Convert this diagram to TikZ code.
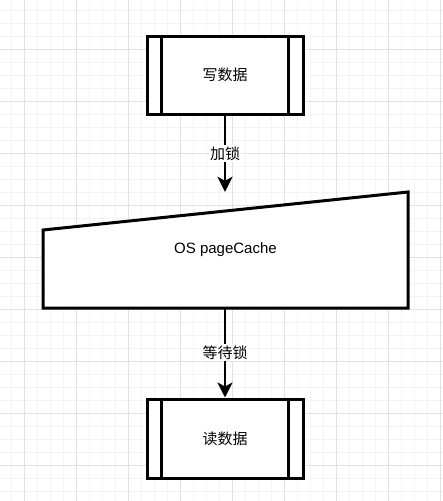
\documentclass[tikz,border=0pt]{standalone}
\usepackage{fontspec}
\setmainfont{Liberation Sans}
\newfontfamily\cjk{Noto Sans CJK SC}
\usetikzlibrary{arrows.meta,calc}
\definecolor{gridminor}{HTML}{F4F4F4}
\definecolor{gridmajor}{HTML}{E2E2E2}
\tikzset{
  procbox/.style={draw, line width=3pt, fill=white, minimum width=156pt,
    minimum height=78pt, inner sep=0pt, font=\cjk\fontsize{15}{18}\selectfont},
  flow/.style={line width=2.5pt, -{Stealth[length=15pt,width=15pt,inset=4pt]}},
  lbl/.style={fill=white, inner sep=1.5pt, font=\cjk\fontsize{15}{18}\selectfont},
}
\begin{document}
\begin{tikzpicture}[x=1pt,y=-1pt]
  \useasboundingbox (0,0) rectangle (443,501);
  % grid
  \foreach \x in {11,24,...,443} \draw[gridminor, line width=0.8pt] (\x,0) -- (\x,501);
  \foreach \y in {10,23,...,501} \draw[gridminor, line width=0.8pt] (0,\y) -- (443,\y);
  \foreach \x in {24,76,...,443} \draw[gridmajor, line width=1pt] (\x,0) -- (\x,501);
  \foreach \y in {49,101,...,501} \draw[gridmajor, line width=1pt] (0,\y) -- (443,\y);

  % write process
  \node[procbox] (wr) at (225,75) {写数据};
  \draw[line width=3pt] ($(wr.north west)+(16,0)$) -- ($(wr.south west)+(16,0)$);
  \draw[line width=3pt] ($(wr.north east)+(-16,0)$) -- ($(wr.south east)+(-16,0)$);

  % page cache (manual input)
  \draw[line width=3pt, fill=white, line join=miter]
    (43,308) coordinate (cacheSW) -- (43,230) -- (408,192) -- (408,308) -- cycle;
  \node[minimum width=365pt, minimum height=116pt, inner sep=0pt,
    font=\fontsize{15}{18}\selectfont] (cache) at (225.5,250) {OS pageCache};

  % read process
  \node[procbox, minimum height=79pt] (rd) at (225,438.5) {读数据};
  \draw[line width=3pt] ($(rd.north west)+(16,0)$) -- ($(rd.south west)+(16,0)$);
  \draw[line width=3pt] ($(rd.north east)+(-16,0)$) -- ($(rd.south east)+(-16,0)$);

  % arrows
  \draw[flow] (wr.south) -- node[lbl] {加锁} (wr.south |- cache.north);
  \draw[flow] (wr.south |- cache.south) -- node[lbl] {等待锁} (rd.north);
\end{tikzpicture}
\end{document}
